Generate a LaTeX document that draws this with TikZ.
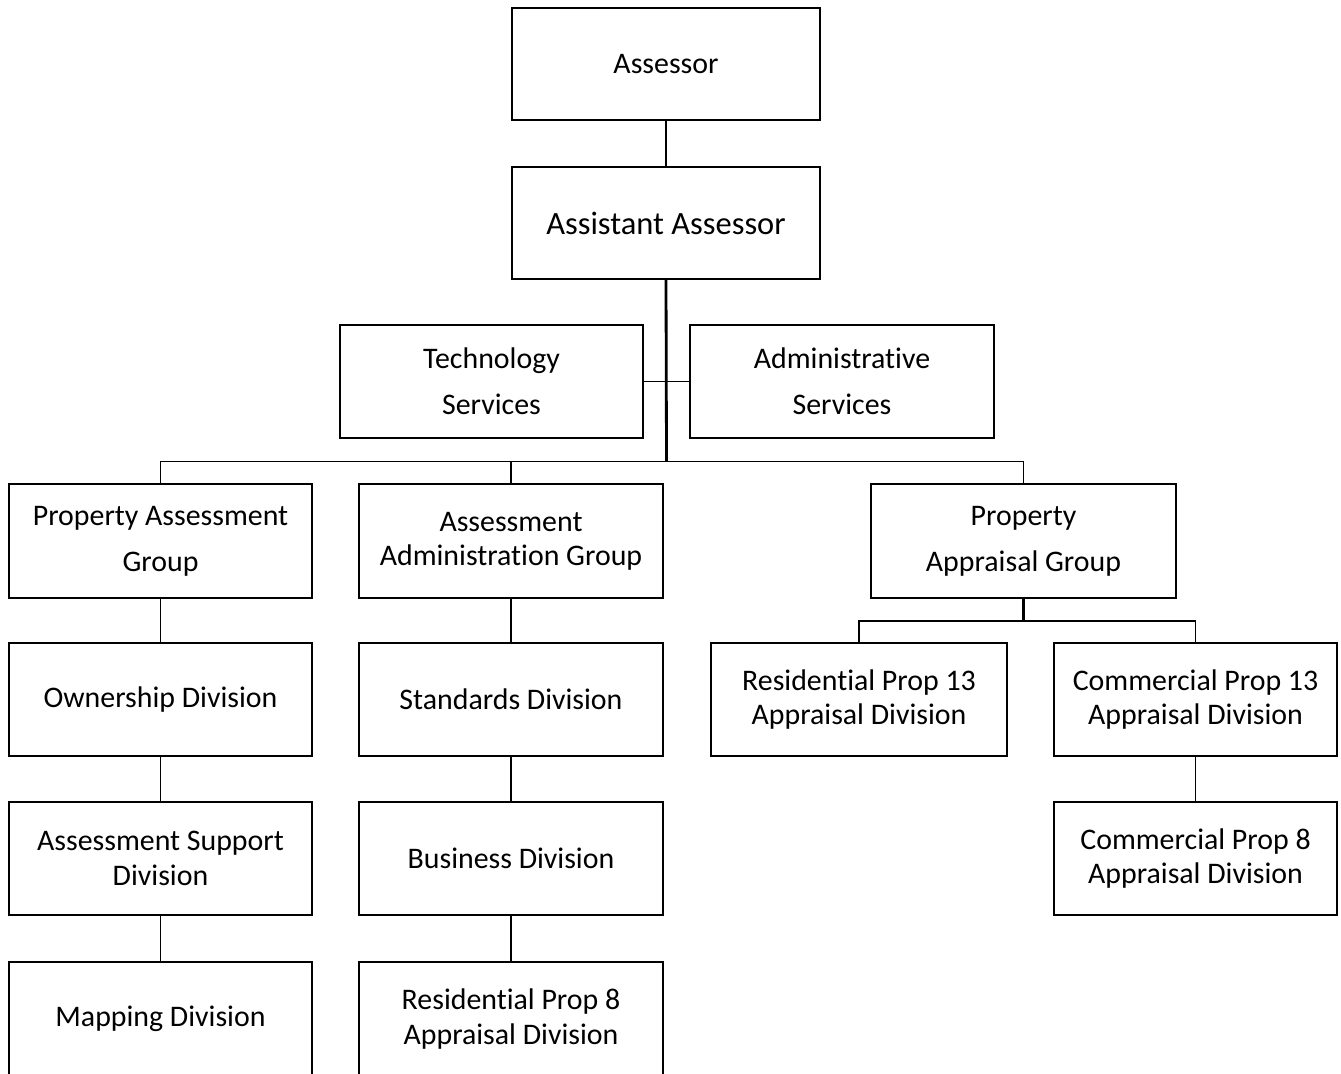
\documentclass[tikz,border=0pt]{standalone}
\usepackage{fontspec}
\setmainfont{Carlito}[Ligatures=NoCommon]
\usepackage{tikz}
\usetikzlibrary{positioning}
\tikzset{
    unit/.style={rectangle, minimum width=6.06cm, minimum height=2.26cm, inner sep=0pt, align=center, draw=black, line width=1pt, font=\fontsize{17}{19.5}\selectfont},
    link/.style={draw=black, line width=1pt},
    trunk/.style={draw=black, line width=1.6pt}
}
\begin{document}
\begin{tikzpicture}[x=0.02cm, y=-0.02cm]
    \useasboundingbox (0,0) rectangle (1341,1074);
    % Top
    \node[unit, minimum width=6.16cm, minimum height=2.24cm] (assessor) at (666,64) {Assessor};
    \node[unit, minimum width=6.16cm, minimum height=2.24cm, font=\fontsize{18.5}{22}\selectfont] (asst) at (666,223) {Assistant Assessor};
    \node[unit] (tech) at (491.5,381.5) {Technology\\[6.7pt]Services};
    \node[unit, minimum width=6.08cm] (admin) at (842,381.5) {Administrative\\[6.7pt]Services};
    
    % Groups
    \node[unit, minimum height=2.28cm] (pag) at (160.5,541) {Property Assessment\\[6.7pt]Group};
    \node[unit, minimum width=6.08cm, minimum height=2.28cm] (aag) at (511,541) {Assessment\\Administration Group};
    \node[unit, minimum width=6.1cm, minimum height=2.28cm] (prag) at (1023.5,541) {Property\\[6.7pt]Appraisal Group};
    
    % Divisions
    \node[unit] (own) at (160.5,699.5) {Ownership Division};
    \node[unit] (asup) at (160.5,858.5) {Assessment Support\\Division};
    \node[unit, minimum height=2.28cm] (map) at (160.5,1019) {Mapping Division};
    \node[unit, minimum width=6.08cm] (std) at (511,699.5) {Standards Division};
    \node[unit, minimum width=6.08cm] (bus) at (511,858.5) {Business Division};
    \node[unit, minimum width=6.08cm, minimum height=2.28cm] (res8) at (511,1019) {Residential Prop 8\\Appraisal Division};
    \node[unit, minimum width=5.92cm] (res13) at (859,699.5) {Residential Prop 13\\Appraisal Division};
    \node[unit, minimum width=5.66cm] (com13) at (1195.5,699.5) {Commercial Prop 13\\Appraisal Division};
    \node[unit, minimum width=5.66cm] (com8) at (1195.5,858.5) {Commercial Prop 8\\Appraisal Division};
    
    % Connectors
    \coordinate (hub) at (666.5,461.5);
    \coordinate (hub2) at (1023.5,621);
    \draw[link] (assessor) -- (asst);
    \draw[trunk] (asst.south) -- (hub);
    \draw[link] (tech.east) -- (admin.west);
    \draw[link] (pag.north) |- (hub) -| (prag.north);
    \draw[link] (aag.north) -- (aag.north |- hub);
    \draw[link] (pag) -- (own);
    \draw[link] (own) -- (asup);
    \draw[link] (asup) -- (map);
    \draw[link] (aag) -- (std);
    \draw[link] (std) -- (bus);
    \draw[link] (bus) -- (res8);
    \draw[trunk, line width=1.2pt] (prag.south) -- (hub2);
    \draw[link] (res13.north) |- (hub2) -| (com13.north);
    \draw[link] (com13) -- (com8);
\end{tikzpicture}
\end{document}
